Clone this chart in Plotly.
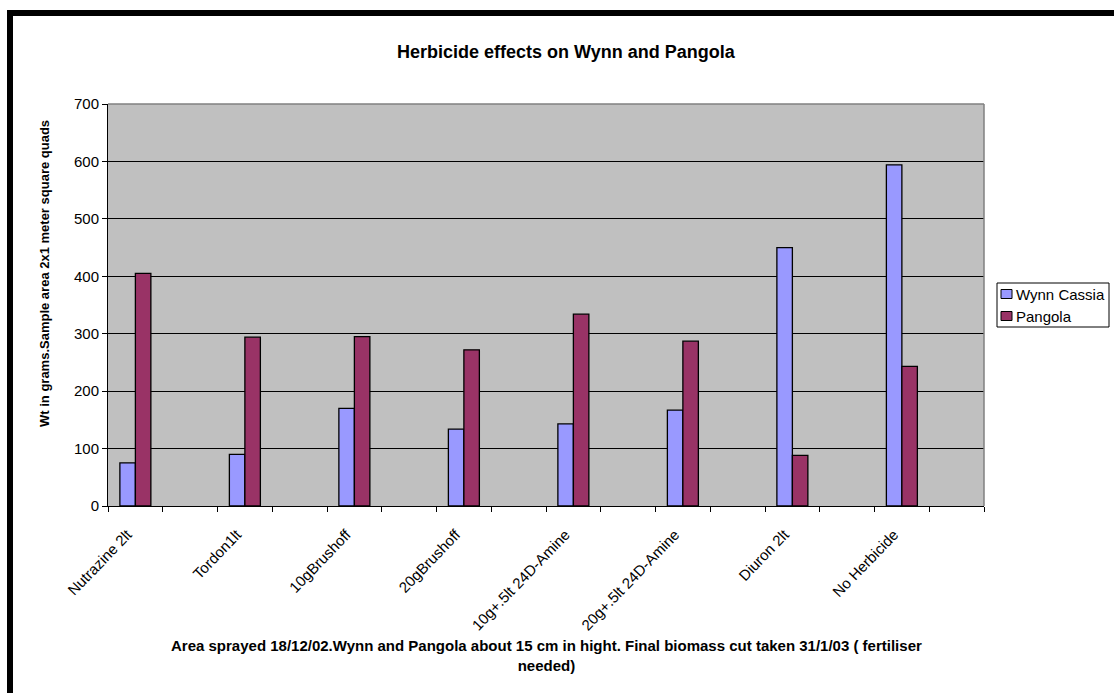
import plotly.graph_objects as go

# Treatments (blank entries are spacer categories between treatments)
categories = [
    "Nutrazine 2lt", "", "Tordon1lt", "", "10gBrushoff", "", "20gBrushoff", "",
    "10g+.5lt 24D-Amine", "", "20g+.5lt 24D-Amine", "", "Diuron 2lt", "",
    "No Herbicide", "",
]
wynn_cassia = [75, None, 90, None, 170, None, 134, None, 143, None, 167, None, 450, None, 594, None]
pangola = [405, None, 294, None, 295, None, 272, None, 334, None, 287, None, 88, None, 243, None]

series_names = ["Wynn Cassia", "Pangola"]
series_colors = ["#9999FF", "#993366"]

y_ticks = [0, 100, 200, 300, 400, 500, 600, 700]

title_text = "Herbicide effects on Wynn and Pangola"
y_title = "Wt in grams.Sample area 2x1 meter square quads"
caption = ("Area sprayed 18/12/02.Wynn and Pangola about 15 cm in hight. Final biomass cut taken 31/1/03 ( fertiliser"
           "<br>needed)")

FONT = "Liberation Sans, Arial, sans-serif"
W, H = 1114, 693
L, R, T, B = 108, 130, 104, 187
pw, ph = W - L - R, H - T - B

x = list(range(len(categories)))


def px_x(p):
    return (p - L) / pw


def px_y(p):
    return (H - B - p) / ph


fig = go.Figure()
for name, vals, col in zip(series_names, [wynn_cassia, pangola], series_colors):
    fig.add_trace(go.Bar(
        x=x, y=vals, name=name, showlegend=False,
        marker=dict(color=col, line=dict(color="black", width=1.3)),
    ))

shapes = [
    # grey top and right edges of the plot area
    dict(type="line", xref="paper", yref="paper", x0=0, x1=1, y0=1, y1=1,
         line=dict(color="#808080", width=1.5)),
    dict(type="line", xref="paper", yref="paper", x0=1, x1=1, y0=0, y1=1,
         line=dict(color="#808080", width=1.5)),
    # heavy black frame around the chart
    dict(type="line", xref="paper", yref="paper", x0=px_x(7), x1=px_x(W + 10),
         y0=px_y(13), y1=px_y(13), line=dict(color="black", width=6)),
    dict(type="line", xref="paper", yref="paper", x0=px_x(10), x1=px_x(10),
         y0=px_y(10), y1=px_y(H + 10), line=dict(color="black", width=6)),
    # legend box
    dict(type="rect", xref="paper", yref="paper", x0=px_x(997), x1=px_x(1109),
         y0=px_y(327), y1=px_y(283), line=dict(color="black", width=1),
         fillcolor="white"),
]

annotations = [
    dict(text=f"<b>{title_text}</b>", xref="paper", yref="paper",
         x=px_x(566), y=px_y(52), xanchor="center", yanchor="middle",
         showarrow=False, font=dict(family=FONT, size=18, color="black")),
    dict(text=f"<b>{y_title}</b>", xref="paper", yref="paper",
         x=px_x(44), y=px_y(274), xanchor="center", yanchor="middle",
         textangle=-90, showarrow=False,
         font=dict(family=FONT, size=13, color="black")),
    dict(text=f"<b>{caption}</b>", xref="paper", yref="paper",
         x=0.5, y=px_y(655), xanchor="center", yanchor="middle",
         showarrow=False, align="center",
         font=dict(family=FONT, size=15, color="black")),
]

# legend entries: swatch + label
legend_rows = [294, 316]
for name, col, yc in zip(series_names, series_colors, legend_rows):
    shapes.append(dict(type="rect", xref="paper", yref="paper",
                       x0=px_x(1001), x1=px_x(1012),
                       y0=px_y(yc + 4.5), y1=px_y(yc - 4.5),
                       line=dict(color="black", width=1), fillcolor=col))
    annotations.append(dict(text=name, xref="paper", yref="paper",
                            x=px_x(1014), y=px_y(yc), xanchor="left", yanchor="middle",
                            showarrow=False,
                            font=dict(family=FONT, size=15, color="black")))

fig.update_layout(
    width=W, height=H,
    margin=dict(l=L, r=R, t=T, b=B, autoexpand=False),
    paper_bgcolor="white",
    plot_bgcolor="#C0C0C0",
    barmode="group",
    bargap=0.434,
    bargroupgap=0,
    font=dict(family=FONT, size=12, color="black"),
    showlegend=False,
    shapes=shapes,
    annotations=annotations,
)

fig.update_xaxes(
    range=[-0.5, len(categories) - 0.5],
    tickmode="array", tickvals=x, ticktext=categories,
    tickangle=-46, ticks="", ticklen=0,
    ticklabelshift=-8, ticklabelstandoff=13,
    tickfont=dict(family=FONT, size=15, color="black"),
    showgrid=False, zeroline=False,
    showline=True, linecolor="black", linewidth=1,
    minor=dict(tickmode="linear", tick0=-0.5, dtick=1, ticks="outside",
               ticklen=5, tickcolor="black", tickwidth=1, showgrid=False),
)

fig.update_yaxes(
    range=[0, 700],
    tickmode="array", tickvals=y_ticks,
    ticks="outside", ticklen=5, tickcolor="black", tickwidth=1,
    tickfont=dict(family=FONT, size=15, color="black"),
    showgrid=True, gridcolor="black", gridwidth=1,
    zeroline=False,
    showline=True, linecolor="black", linewidth=1,
)

fig.write_html("out.html")
